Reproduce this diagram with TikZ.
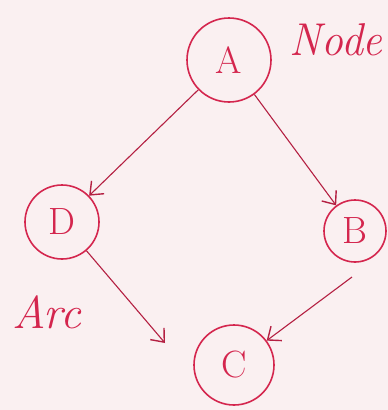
\documentclass[tikz,border=0pt]{standalone}
\usetikzlibrary{arrows.meta}
\definecolor{paper}{RGB}{250,240,241}
\definecolor{ink}{RGB}{212,38,78}
\begin{document}
\begin{tikzpicture}[x=1pt,y=-1pt,
  vertex/.style={draw=ink,circle,line width=1.6pt,inner sep=0pt,text=ink,font=\fontsize{38}{38}\selectfont},
  arc/.style={draw=ink!85!black,line width=1.1pt,-{Straight Barb[length=11pt,width=18pt,line width=1.4pt]}},
  note/.style={text=ink,font=\fontsize{46}{46}\selectfont\itshape}]
  % paper
  \fill[paper] (0,0) rectangle (388,410);
  \useasboundingbox (0,0) rectangle (388,410);
  % vertices
  \node[vertex,minimum size=84pt] (A) at (229,60) {A};
  \node[vertex,minimum size=74pt] (D) at (62,222) {D};
  \node[vertex,minimum size=62pt] (B) at (355,231) {B};
  \node[vertex,minimum size=80pt] (C) at (234,365) {C};
  % free ends of the arcs
  \coordinate (dEnd) at (165,343);
  \coordinate (bStart) at (352,277);
  % arcs
  \draw[arc] (A) -- (D);
  \draw[arc] (A) -- (B);
  \draw[arc] (D) -- (dEnd);
  \draw[arc] (bStart) -- (C);
  % labels
  \node[note,xscale=0.95] (nodeLbl) at (336,40) {Node};
  \node[note] (arcLbl) at (47,312) {Arc};
\end{tikzpicture}
\end{document}
